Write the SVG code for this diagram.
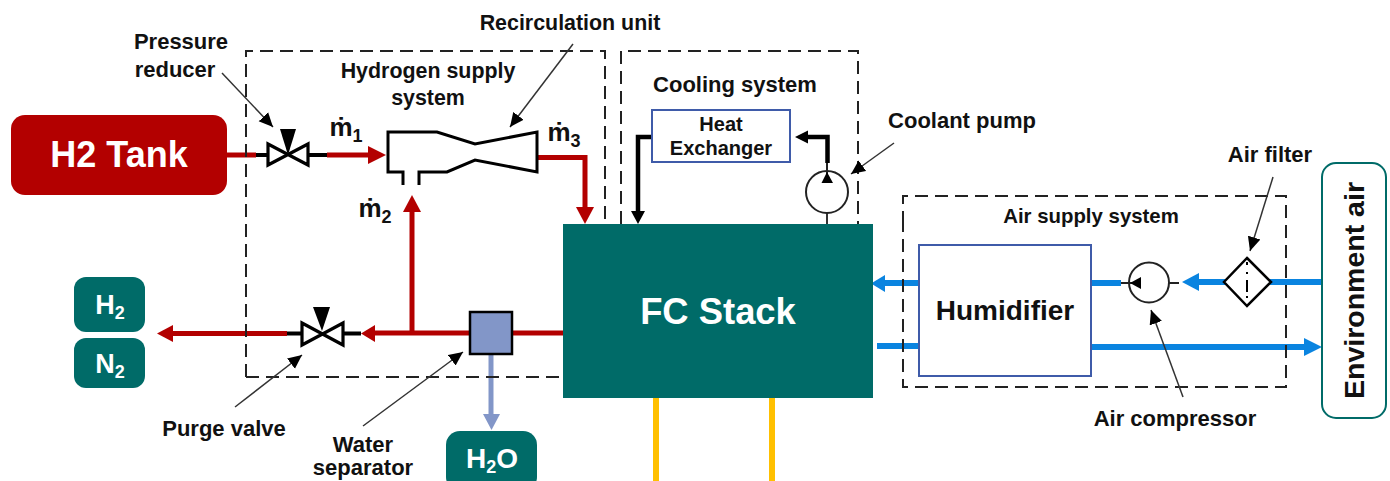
<svg xmlns="http://www.w3.org/2000/svg" width="1390" height="481" viewBox="0 0 1390 481">
<defs>
<marker id="ar" markerUnits="userSpaceOnUse" markerWidth="14" markerHeight="14" refX="14" refY="7" orient="auto"><path d="M0,0.5L14,7L0,13.5Z" fill="#000"/></marker>
</defs>
<style>
text{font-family:"Liberation Sans",Arial,sans-serif;font-weight:700;fill:#111;text-anchor:middle}
.lb{font-size:22px}
.lm{font-size:21.4px}
.wt{fill:#fff}
.dash{fill:none;stroke:#222;stroke-width:2;stroke-dasharray:13 7}
.red{fill:none;stroke:#b30000;stroke-width:5}
.blue{fill:none;stroke:#0a84e0;stroke-width:6}
.blk{fill:none;stroke:#000;stroke-width:4.5}
.blk4{fill:none;stroke:#000;stroke-width:4}
.thin{fill:none;stroke:#333;stroke-width:1.5;marker-end:url(#ar)}
.vlv{fill:#fff;stroke:#000;stroke-width:3.2}
.tl{fill:#006b68}
</style>
<g id="connectors">
<path class="red" d="M227,155H256"/>
<path class="blk4" d="M256,155H270M306,155H327"/>
<path class="red" d="M327,155H370"/><path fill="#b30000" d="M368,146L386,155L368,164Z"/>
<path class="red" d="M538,157.500H585V210"/><path fill="#b30000" d="M576,207H594L585,224Z"/>
<path class="red" d="M412,333V210"/><path fill="#b30000" d="M403,212H421L412,195Z"/>
<path class="red" d="M563,333H374"/><path fill="#b30000" d="M375,325L361,333.500L375,342Z"/>
<path class="blk4" d="M361,333.500H342M303,333.500H287"/>
<path class="red" d="M287,333.500H170"/><path fill="#b30000" d="M173,325L157,333.500L173,342Z"/>
<path fill="none" stroke="#8296c8" stroke-width="5" d="M491,354V416"/><path fill="#8296c8" d="M483,414H500L491.500,430Z"/>
<path class="blk" d="M652,137H638V215"/><path fill="#000" d="M631,211H645L638,224Z"/>
<path class="blk" d="M827.500,163V137H805"/><path fill="#000" d="M808,130.500V143.500L795,137Z"/>
<path fill="none" stroke="#333" stroke-width="2" d="M827,213V224"/>
<path class="blue" d="M919,283H884"/><path fill="#0a84e0" d="M885,275V292L871,283.500Z"/>
<path class="blue" d="M877,346H919"/>
<path class="blue" d="M1091,347H1305"/><path fill="#0a84e0" d="M1304,338L1322,347L1304,356Z"/>
<path class="blue" d="M1091,283H1121"/>
<path class="blue" d="M1322,282H1198"/><path fill="#0a84e0" d="M1199,273V291L1182,282Z"/>
<path class="dash" d="M246,377V51H605V377M246,377H563"/>
<path class="dash" d="M621,224V51H858V224"/>
<path class="dash" d="M903,224V196H1286V387H903V224"/>
<path class="thin" d="M222,73L273,127"/>
<path class="thin" d="M573,44L510,127"/>
<path class="thin" d="M894,143L851,174"/>
<path class="thin" d="M1273,177L1250,251"/>
<path class="thin" d="M1183,397L1151,310"/>
<path class="thin" d="M235,407L302,355"/>
<path class="thin" d="M363,426L463,352"/>
</g>
<g id="h2-tank"><rect x="11" y="115" width="216" height="80" rx="14" fill="#b30000"/><text class="wt" x="119" y="167" font-size="36">H2 Tank</text></g>
<g id="pressure-reducer"><path class="vlv" d="M268,144L308,165V144L268,165Z"/><path fill="#000" d="M280,129H296L288,155Z"/></g>
<g id="recirculation-unit"><path fill="none" stroke="#000" stroke-width="3" d="M403,185V172H388V132H437L475,144L537,132V172L475,160L447,172H419V185"/></g>
<g id="purge-valve"><path class="vlv" d="M302,323L343,345V323L302,345Z"/><path fill="#000" d="M313,307H330L322,331Z"/></g>
<g id="water-separator"><rect x="470" y="312" width="42" height="42" fill="#8296c8" stroke="#000" stroke-width="2.500"/></g>
<g id="fc-stack"><rect class="tl" x="563" y="224" width="310" height="174"/><text class="wt" x="718" y="324" font-size="36.400">FC Stack</text></g>
<g id="yellow-leads"><path fill="none" stroke="#ffc000" stroke-width="6" d="M656,398V481M772,398V481"/></g>
<g id="heat-exchanger"><rect x="652" y="110" width="138" height="52" fill="#fff" stroke="#3f5ba9" stroke-width="2"/><text x="721" y="131" font-size="20">Heat</text><text x="721" y="155" font-size="20">Exchanger</text></g>
<g id="coolant-pump"><circle cx="827" cy="192" r="21" fill="#fff" stroke="#222" stroke-width="2"/><path stroke="#222" stroke-width="2" d="M827,163V175"/><path fill="#000" d="M821.500,183H833L827,172Z"/></g>
<g id="humidifier"><rect x="919" y="245" width="172" height="131" fill="#fff" stroke="#3f5ba9" stroke-width="2"/><text x="1005" y="320" font-size="28">Humidifier</text></g>
<g id="air-compressor"><circle cx="1149" cy="282.500" r="20" fill="#fff" stroke="#222" stroke-width="2"/><path stroke="#222" stroke-width="2" d="M1121,283H1132M1169,283H1179"/><path fill="#000" d="M1141,277V289L1130,283Z"/></g>
<g id="air-filter"><path fill="#fff" stroke="#000" stroke-width="2.500" d="M1247,258L1271,282L1247,306L1224,282Z"/><path stroke="#000" stroke-width="2" d="M1247,262v3M1247,272v2M1247,280V292M1247,296v2"/></g>
<g id="environment-air"><rect x="1322" y="163" width="64" height="255" rx="14" fill="#fff" stroke="#006b68" stroke-width="2"/><text font-size="28.500" transform="translate(1364,290.500) rotate(-90)">Environment air</text></g>
<g id="h2-out"><rect class="tl" x="74" y="277" width="71" height="55" rx="12"/><text class="wt" x="110" y="314" font-size="27">H<tspan font-size="18" dy="5">2</tspan></text></g>
<g id="n2-out"><rect class="tl" x="74" y="338" width="71" height="50" rx="12"/><text class="wt" x="110" y="373" font-size="27">N<tspan font-size="18" dy="5">2</tspan></text></g>
<g id="h2o-out"><rect class="tl" x="446" y="431" width="91" height="60" rx="14"/><text class="wt" x="492" y="468" font-size="28">H<tspan font-size="18" dy="5">2</tspan><tspan dy="-5">O</tspan></text></g>
<g id="labels">
<text class="lb" x="181" y="49">Pressure</text><text class="lb" x="175" y="77">reducer</text>
<text class="lm" x="570" y="30">Recirculation unit</text>
<text class="lm" x="428" y="78">Hydrogen supply</text><text class="lm" x="428" y="105">system</text>
<text class="lb" x="735" y="92">Cooling system</text>
<text class="lb" x="962" y="128">Coolant pump</text>
<text class="lb" x="1270" y="162">Air filter</text>
<text x="1091" y="223" font-size="20.400">Air supply system</text>
<text class="lb" x="1175" y="426">Air compressor</text>
<text class="lb" x="224" y="436">Purge valve</text>
<text class="lb" x="363" y="452">Water</text><text class="lb" x="363" y="475">separator</text>
<text x="346" y="136" font-size="26">ṁ<tspan font-size="18" dy="6">1</tspan></text>
<text x="375" y="217" font-size="26">ṁ<tspan font-size="18" dy="6">2</tspan></text>
<text x="564" y="141" font-size="26">ṁ<tspan font-size="18" dy="6">3</tspan></text>
</g>
</svg>
